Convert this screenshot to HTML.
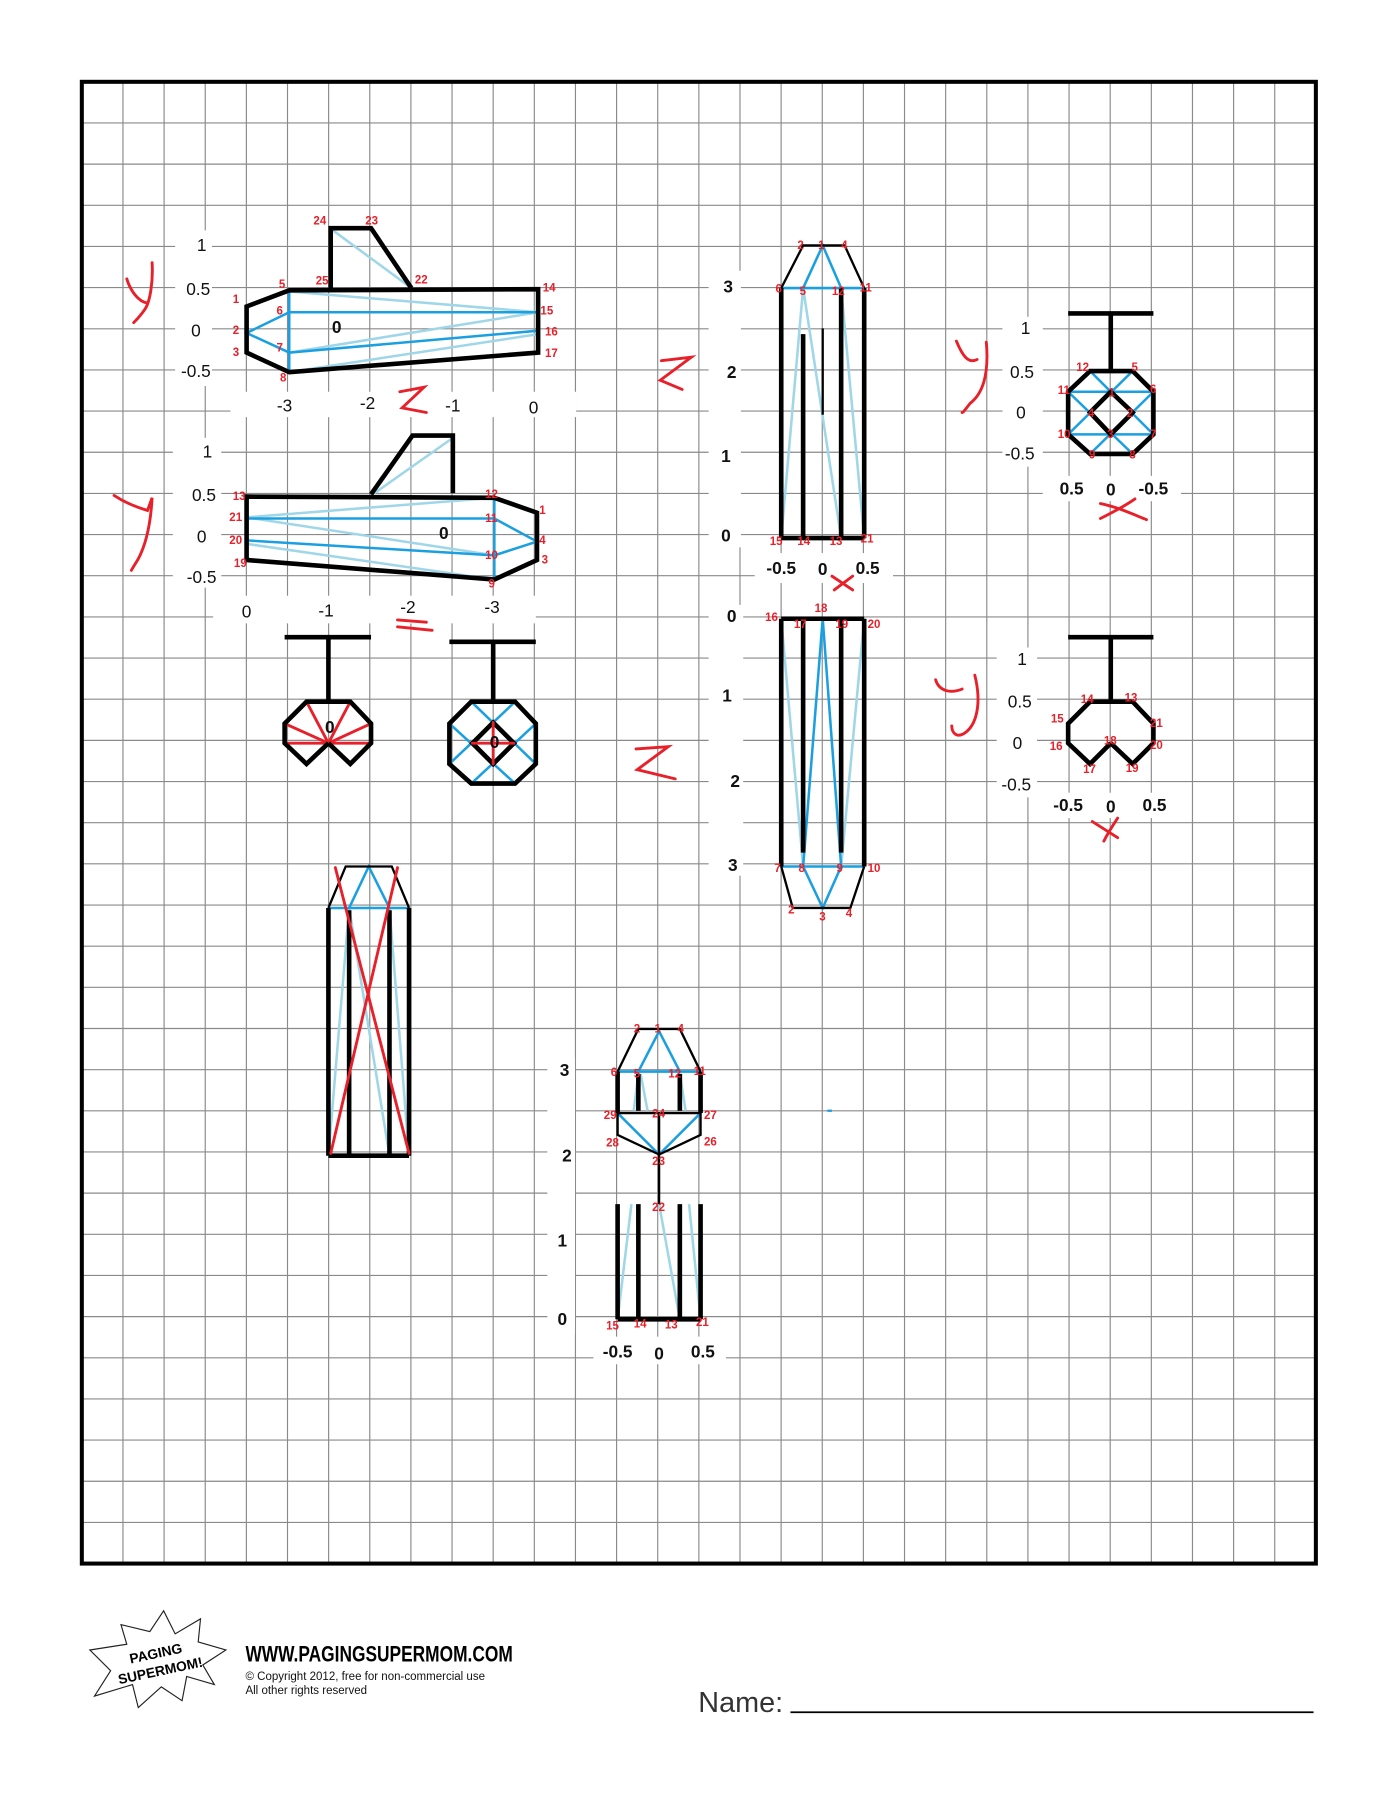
<!DOCTYPE html>
<html><head><meta charset="utf-8">
<style>
html,body{margin:0;padding:0;background:#fff;}
svg{display:block;}
.n{font-family:"Liberation Sans",sans-serif;font-size:15px;fill:#111;}
.nb{font-family:"Liberation Sans",sans-serif;font-size:15px;font-weight:bold;fill:#111;}
.r{font-family:"Liberation Sans",sans-serif;font-size:10px;font-weight:bold;fill:#e8202a;}
.k{stroke:#000;stroke-width:4;fill:none;stroke-linejoin:miter;}
.kt{stroke:#000;stroke-width:2;fill:none;}
.b{stroke:#1aa0e0;stroke-width:2.2;fill:none;}
.lb{stroke:#9fd6e8;stroke-width:2.2;fill:none;}
.rd{stroke:#e8202a;stroke-width:2.5;fill:none;stroke-linecap:round;}
</style></head>
<body>
<svg width="1400" height="1812" viewBox="0 0 1215 1572.6" xmlns="http://www.w3.org/2000/svg">
<g id="grid" stroke="#8a8a8a" stroke-width="1"></g>
<rect x="71" y="71" width="1071" height="1286" fill="none" stroke="#000" stroke-width="3.5"/>

<!-- white patches -->
<g fill="#fff">
<rect x="152" y="200" width="32" height="135"/>
<rect x="150" y="380" width="42" height="130"/>
<rect x="200" y="340" width="300" height="22"/>
<rect x="185" y="517" width="280" height="24"/>
<rect x="615" y="235" width="28" height="240"/>
<rect x="655" y="480" width="120" height="26"/>
<rect x="615" y="525" width="30" height="235"/>
<rect x="870" y="275" width="35" height="130"/>
<rect x="905" y="413" width="120" height="22"/>
<rect x="865" y="562" width="35" height="130"/>
<rect x="905" y="688" width="105" height="22"/>
<rect x="475" y="918" width="24" height="240"/>
<rect x="515" y="1160" width="115" height="24"/>
</g>

<!-- Chart 1 -->
<g>
<text class="n" x="175" y="218" text-anchor="middle">1</text>
<text class="n" x="172" y="256" text-anchor="middle">0.5</text>
<text class="n" x="170" y="292" text-anchor="middle">0</text>
<text class="n" x="170" y="327" text-anchor="middle">-0.5</text>
<text class="n" x="247" y="357" text-anchor="middle">-3</text>
<text class="n" x="319" y="355" text-anchor="middle">-2</text>
<text class="n" x="393" y="357" text-anchor="middle">-1</text>
<text class="n" x="463" y="359" text-anchor="middle">0</text>
<polyline class="lb" points="251,253 467,271 251,306"/>
<polyline class="lb" points="251,323 467,290"/>
<line class="lb" x1="289" y1="200" x2="357" y2="250"/>
<line class="b" x1="251" y1="253" x2="251" y2="323"/>
<polyline class="b" points="251,271 214,289 251,306"/>
<line class="b" x1="251" y1="271" x2="467" y2="271"/>
<line class="b" x1="251" y1="306" x2="467" y2="287"/>
<polygon class="k" points="214,266 251,252 467,251 467,306 251,323 214,306"/>
<polyline class="k" points="287,250 287,198 322,198 357,250"/>
<text class="nb" x="288" y="289" font-size="10">0</text>
<g class="r">
<text x="272" y="195">24</text><text x="317" y="195">23</text><text x="274" y="247">25</text><text x="360" y="246">22</text>
<text x="242" y="250">5</text><text x="202" y="263">1</text><text x="240" y="273">6</text><text x="202" y="290">2</text>
<text x="240" y="305">7</text><text x="202" y="309">3</text><text x="243" y="331">8</text>
<text x="471" y="253">14</text><text x="469" y="273">15</text><text x="473" y="291">16</text><text x="473" y="310">17</text>
</g></g>

<!-- Chart 2 -->
<g>
<text class="n" x="180" y="397" text-anchor="middle">1</text>
<text class="n" x="177" y="435" text-anchor="middle">0.5</text>
<text class="n" x="175" y="471" text-anchor="middle">0</text>
<text class="n" x="175" y="506" text-anchor="middle">-0.5</text>
<text class="n" x="214" y="536" text-anchor="middle">0</text>
<text class="n" x="283" y="535" text-anchor="middle">-1</text>
<text class="n" x="354" y="532" text-anchor="middle">-2</text>
<text class="n" x="427" y="532" text-anchor="middle">-3</text>
<polyline class="lb" points="429,432 214,449 429,482"/>
<line class="lb" x1="214" y1="472" x2="429" y2="503"/>
<line class="lb" x1="325" y1="428" x2="393" y2="380"/>
<line class="b" x1="214" y1="450" x2="429" y2="450"/>
<line class="b" x1="214" y1="469" x2="429" y2="482"/>
<line class="b" x1="429" y1="432" x2="429" y2="503"/>
<polyline class="b" points="429,450 466,470 429,482"/>
<polygon class="k" points="214,431 429,432 466,445 466,486 429,503 214,486"/>
<polyline class="k" points="322,429 358,378 393,378 393,428"/>
<text class="nb" x="381" y="468" font-size="10">0</text>
<g class="r">
<text x="202" y="434">13</text><text x="199" y="452">21</text><text x="199" y="472">20</text><text x="203" y="492">19</text>
<text x="421" y="432">12</text><text x="421" y="453">11</text><text x="421" y="485">10</text><text x="424" y="510">9</text>
<text x="468" y="446">1</text><text x="468" y="472">4</text><text x="470" y="489">3</text>
</g></g>

<!-- wheels -->
<g>
<line class="k" x1="247" y1="553" x2="322" y2="553"/><line class="k" x1="285" y1="553" x2="285" y2="609"/>
<g class="rd" stroke-width="2">
<line x1="285" y1="645" x2="266" y2="609"/><line x1="285" y1="645" x2="304" y2="609"/>
<line x1="285" y1="645" x2="247" y2="628"/><line x1="285" y1="645" x2="322" y2="628"/>
<line x1="247" y1="645" x2="322" y2="645"/><line x1="285" y1="645" x2="266" y2="663"/><line x1="285" y1="645" x2="304" y2="663"/>
</g>
<polyline class="k" points="285,645 266,663 247,645 247,628 266,609 304,609 322,628 322,645 304,663 285,645"/>
<text class="nb" x="282" y="636" font-size="10">0</text>
</g>
<g>
<line class="k" x1="390" y1="557" x2="465" y2="557"/><line class="k" x1="428" y1="557" x2="428" y2="609"/>
<g class="b"><line x1="409" y1="609" x2="465" y2="663"/><line x1="447" y1="609" x2="390" y2="663"/>
<line x1="390" y1="628" x2="447" y2="680"/><line x1="465" y1="628" x2="409" y2="680"/></g>
<polygon class="k" points="428,627 446,645 428,663 410,645"/>
<g class="rd" stroke-width="2"><line x1="428" y1="627" x2="428" y2="663"/><line x1="410" y1="645" x2="446" y2="645"/></g>
<polygon class="k" points="409,609 447,609 465,628 465,663 447,680 409,680 390,663 390,628"/>
<text class="nb" x="425" y="649" font-size="10">0</text>
</g>

<!-- Middle tall 1 -->
<g>
<text class="nb" x="632" y="254" text-anchor="middle">3</text>
<text class="nb" x="635" y="328" text-anchor="middle">2</text>
<text class="nb" x="630" y="401" text-anchor="middle">1</text>
<text class="nb" x="630" y="470" text-anchor="middle">0</text>
<text class="nb" x="678" y="498" text-anchor="middle">-0.5</text>
<text class="nb" x="714" y="499" text-anchor="middle">0</text>
<text class="nb" x="753" y="498" text-anchor="middle">0.5</text>
<g class="lb"><line x1="697" y1="250" x2="678" y2="467"/><line x1="697" y1="250" x2="730" y2="467"/><line x1="730" y1="250" x2="750" y2="467"/></g>
<g class="b"><line x1="678" y1="250" x2="750" y2="250"/><polyline points="697,250 714,213 730,250"/></g>
<polyline class="kt" points="678,250 697,213 733,213 750,250"/>
<g class="k"><line x1="678" y1="250" x2="678" y2="467"/><line x1="697" y1="290" x2="697" y2="467"/><line x1="730" y1="250" x2="730" y2="467"/><line x1="750" y1="250" x2="750" y2="467"/><line x1="678" y1="467" x2="750" y2="467"/></g>
<line x1="714" y1="285" x2="714" y2="360" stroke="#000" stroke-width="2"/>
<g class="r"><text x="692" y="216">2</text><text x="710" y="216">1</text><text x="730" y="216">4</text>
<text x="673" y="254">6</text><text x="694" y="256">5</text><text x="722" y="256">12</text><text x="746" y="253">11</text>
<text x="668" y="473">15</text><text x="692" y="473">14</text><text x="720" y="473">13</text><text x="747" y="471">21</text></g>
<path class="rd" d="M722,500 L740,512 M740,500 L724,512"/>
</g>

<!-- Middle tall 2 -->
<g>
<text class="nb" x="635" y="540" text-anchor="middle">0</text>
<text class="nb" x="631" y="609" text-anchor="middle">1</text>
<text class="nb" x="638" y="683" text-anchor="middle">2</text>
<text class="nb" x="636" y="756" text-anchor="middle">3</text>
<g class="lb"><line x1="678" y1="537" x2="697" y2="752"/><line x1="750" y1="537" x2="730" y2="752"/></g>
<g class="b"><polyline points="697,752 714,537 730,752"/><line x1="678" y1="752" x2="750" y2="752"/><polyline points="697,752 714,788 730,752"/></g>
<polyline class="kt" points="678,752 688,788 738,788 750,752"/>
<g class="k"><line x1="678" y1="537" x2="678" y2="752"/><line x1="697" y1="537" x2="697" y2="740"/><line x1="730" y1="537" x2="730" y2="740"/><line x1="750" y1="537" x2="750" y2="752"/><line x1="678" y1="537" x2="750" y2="537"/></g>
<g class="r"><text x="664" y="539">16</text><text x="689" y="545">17</text><text x="707" y="531">18</text><text x="725" y="545">19</text><text x="753" y="545">20</text>
<text x="672" y="757">7</text><text x="693" y="757">8</text><text x="726" y="757">9</text><text x="753" y="757">10</text>
<text x="684" y="793">2</text><text x="711" y="799">3</text><text x="734" y="796">4</text></g>
</g>

<!-- right octagon 1 -->
<g>
<text class="n" x="890" y="290" text-anchor="middle">1</text>
<text class="n" x="887" y="328" text-anchor="middle">0.5</text>
<text class="n" x="886" y="363" text-anchor="middle">0</text>
<text class="n" x="885" y="399" text-anchor="middle">-0.5</text>
<text class="nb" x="930" y="429" text-anchor="middle">0.5</text>
<text class="nb" x="964" y="430" text-anchor="middle">0</text>
<text class="nb" x="1001" y="429" text-anchor="middle">-0.5</text>
<line class="k" x1="927" y1="272" x2="1001" y2="272"/><line class="k" x1="964" y1="272" x2="964" y2="322"/>
<g class="b"><line x1="946" y1="322" x2="1001" y2="377"/><line x1="983" y1="322" x2="927" y2="377"/>
<line x1="927" y1="340" x2="983" y2="394"/><line x1="1001" y1="340" x2="946" y2="394"/>
<line x1="927" y1="340" x2="1001" y2="340"/><line x1="927" y1="377" x2="1001" y2="377"/></g>
<polygon class="k" points="964,340 983,358 964,377 946,358"/>
<polygon class="k" points="946,322 983,322 1001,340 1001,377 983,394 946,394 927,377 927,340"/>
<g class="r"><text x="934" y="322">12</text><text x="982" y="322">5</text><text x="918" y="342">11</text><text x="998" y="341">6</text>
<text x="962" y="344">1</text><text x="978" y="362">2</text><text x="961" y="380">3</text><text x="944" y="362">4</text>
<text x="918" y="380">10</text><text x="998" y="380">7</text><text x="945" y="398">9</text><text x="980" y="398">8</text></g>
<path class="rd" d="M955,437 C970,440 985,447 995,451 M985,433 C975,440 965,445 955,450"/>
<path class="rd" d="M830,296 C835,308 840,316 848,312 M856,297 C858,320 855,340 842,350 C838,355 836,358 835,358"/>
</g>

<!-- right shape 2 -->
<g>
<text class="n" x="887" y="577" text-anchor="middle">1</text>
<text class="n" x="885" y="614" text-anchor="middle">0.5</text>
<text class="n" x="883" y="650" text-anchor="middle">0</text>
<text class="n" x="882" y="686" text-anchor="middle">-0.5</text>
<text class="nb" x="927" y="704" text-anchor="middle">-0.5</text>
<text class="nb" x="964" y="705" text-anchor="middle">0</text>
<text class="nb" x="1002" y="704" text-anchor="middle">0.5</text>
<line class="k" x1="927" y1="553" x2="1001" y2="553"/><line class="k" x1="964" y1="553" x2="964" y2="609"/>
<polyline class="k" points="964,645 983,663 1001,645 1001,628 983,609 946,609 927,628 927,645 946,663 964,645"/>
<g class="r"><text x="938" y="610">14</text><text x="976" y="609">13</text><text x="912" y="627">15</text><text x="998" y="631">21</text>
<text x="911" y="651">16</text><text x="958" y="646">18</text><text x="998" y="650">20</text><text x="940" y="671">17</text><text x="977" y="670">19</text></g>
<path class="rd" d="M948,713 L970,727 M958,730 C962,722 966,716 970,710"/>
<path class="rd" d="M812,590 C815,600 825,602 835,598 M846,586 C852,610 848,630 836,637 C830,640 826,636 826,630"/>
</g>

<!-- bottom-left tall -->
<g>
<g class="lb"><line x1="303" y1="788" x2="285" y2="1003"/><line x1="303" y1="788" x2="338" y2="1003"/><line x1="338" y1="788" x2="355" y2="1003"/></g>
<g class="b"><line x1="285" y1="788" x2="355" y2="788"/><polyline points="303,788 320,752 338,788"/></g>
<polyline class="kt" points="285,788 300,752 340,752 355,788"/>
<g class="k"><line x1="285" y1="788" x2="285" y2="1003"/><line x1="303" y1="790" x2="303" y2="1003"/><line x1="338" y1="790" x2="338" y2="1003"/><line x1="355" y1="788" x2="355" y2="1003"/><line x1="285" y1="1003" x2="355" y2="1003"/></g>
<g class="rd" stroke-width="3.5"><line x1="291" y1="753" x2="355" y2="1001"/><line x1="345" y1="753" x2="287" y2="1001"/></g>
</g>

<!-- bottom centre -->
<g>
<text class="nb" x="490" y="934" text-anchor="middle">3</text>
<text class="nb" x="492" y="1008" text-anchor="middle">2</text>
<text class="nb" x="488" y="1082" text-anchor="middle">1</text>
<text class="nb" x="488" y="1150" text-anchor="middle">0</text>
<text class="nb" x="536" y="1178" text-anchor="middle">-0.5</text>
<text class="nb" x="572" y="1180" text-anchor="middle">0</text>
<text class="nb" x="610" y="1178" text-anchor="middle">0.5</text>
<g class="lb"><line x1="548" y1="1045" x2="536" y2="1145"/><line x1="572" y1="1045" x2="590" y2="1145"/><line x1="598" y1="1045" x2="608" y2="1145"/><line x1="554" y1="932" x2="550" y2="964"/><line x1="556" y1="932" x2="562" y2="964"/><line x1="590" y1="932" x2="595" y2="964"/></g>
<g class="b"><line x1="536" y1="930" x2="608" y2="930"/><polyline points="554,930 572,895 590,930"/><polyline points="536,966 572,1002 608,966"/></g>
<polyline class="kt" points="536,930 554,893 590,893 608,930"/>
<polyline class="kt" points="536,966 608,966 608,985 572,1002 536,985 536,966"/>
<line class="kt" x1="572" y1="966" x2="572" y2="1045"/>
<g class="k"><line x1="536" y1="930" x2="536" y2="966"/><line x1="554" y1="932" x2="554" y2="964"/><line x1="590" y1="932" x2="590" y2="964"/><line x1="608" y1="930" x2="608" y2="966"/>
<line x1="536" y1="1045" x2="536" y2="1145"/><line x1="554" y1="1045" x2="554" y2="1145"/><line x1="590" y1="1045" x2="590" y2="1145"/><line x1="608" y1="1045" x2="608" y2="1145"/><line x1="536" y1="1145" x2="608" y2="1145"/></g>
<g class="r"><text x="550" y="896">2</text><text x="568" y="896">1</text><text x="588" y="896">4</text>
<text x="530" y="934">6</text><text x="550" y="935">5</text><text x="580" y="935">12</text><text x="602" y="933">11</text>
<text x="524" y="971">29</text><text x="566" y="970">24</text><text x="611" y="971">27</text><text x="526" y="995">28</text><text x="611" y="994">26</text>
<text x="566" y="1011">23</text><text x="566" y="1051">22</text>
<text x="526" y="1154">15</text><text x="550" y="1152">14</text><text x="577" y="1153">13</text><text x="604" y="1151">21</text></g>
<rect x="718" y="963" width="4" height="2" fill="#1aa0e0"/>
</g>

<!-- red hand annotations -->
<g class="rd">
<path d="M110,242 C113,252 120,262 128,263 M132,228 C133,245 130,262 126,268 C122,274 118,278 116,280"/>
<path d="M99,430 C108,436 118,440 128,443 L132,432 C131,450 128,470 120,485 C117,490 115,493 114,495"/>
<path d="M347,340 L368,336 L349,354 L370,358"/>
<path d="M574,313 L600,310 L573,330 L592,338"/>
<path d="M345,538 L370,540 M345,544 L375,547"/>
<path d="M552,650 L580,648 L553,668 L586,676"/>
</g>

<!-- footer -->
<g>
<polygon points="78,1432 110,1427 105,1410 130,1416 142,1398 152,1418 174,1405 172,1425 196,1432 176,1445 186,1462 162,1455 158,1476 140,1464 120,1482 115,1462 82,1472 96,1450" fill="#fff" stroke="#222" stroke-width="1"/>
<text x="136" y="1439" text-anchor="middle" font-family="Liberation Sans,sans-serif" font-weight="900" font-size="12" fill="#000" transform="rotate(-12 136 1439)">PAGING</text>
<text x="140" y="1454" text-anchor="middle" font-family="Liberation Sans,sans-serif" font-weight="900" font-size="12" fill="#000" transform="rotate(-12 140 1454)">SUPERMOM!</text>
</g>
<text x="213" y="1442" font-family="Liberation Sans,sans-serif" font-weight="bold" font-size="19" fill="#000" textLength="232" lengthAdjust="spacingAndGlyphs">WWW.PAGINGSUPERMOM.COM</text>
<text x="213" y="1458" font-family="Liberation Sans,sans-serif" font-size="10" fill="#111">© Copyright 2012, free for non-commercial use</text>
<text x="213" y="1470" font-family="Liberation Sans,sans-serif" font-size="10" fill="#111">All other rights reserved</text>
<text x="606" y="1486" font-family="Liberation Sans,sans-serif" font-size="25" fill="#333">Name:</text>
<line x1="686" y1="1486" x2="1140" y2="1486" stroke="#000" stroke-width="1.5"/>
</svg>
<script>
var g=document.getElementById('grid');
var ns='http://www.w3.org/2000/svg';
for(var i=1;i<30;i++){var x=71+1071*i/30;var l=document.createElementNS(ns,'line');l.setAttribute('x1',x);l.setAttribute('x2',x);l.setAttribute('y1',71);l.setAttribute('y2',1357);


g.appendChild(l);}
for(var j=1;j<36;j++){var y=71+1286*j/36;var m=document.createElementNS(ns,'line');m.setAttribute('x1',71);m.setAttribute('x2',1142);m.setAttribute('y1',y);m.setAttribute('y2',y);


g.appendChild(m);}
</script>
</body></html>
